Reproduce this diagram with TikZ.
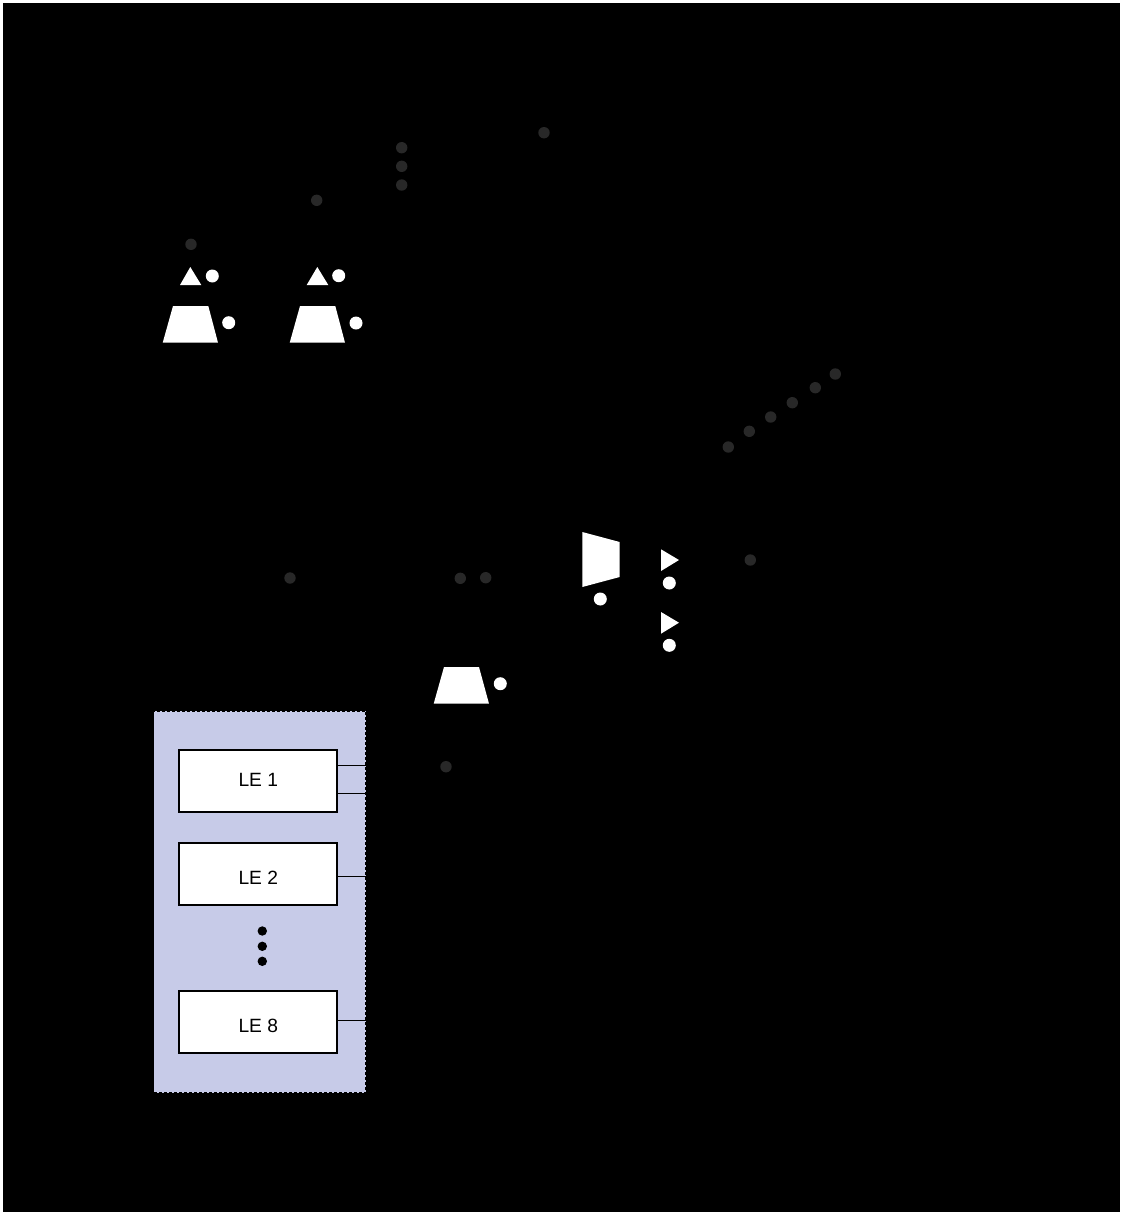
\documentclass[tikz,border=0pt]{standalone}
\usepackage{fontspec}
\setmainfont{Liberation Sans}
\definecolor{dimdot}{HTML}{282828}
\definecolor{clb}{HTML}{C7CBE8}
\tikzset{
  x=0.5pt,y=-0.5pt,
  dimdotn/.style={circle,fill=dimdot,inner sep=0pt,minimum size=5.7pt},
  whitedot/.style={circle,fill=white,inner sep=0pt,minimum size=6.5pt},
  blackdot/.style={circle,fill=black,inner sep=0pt,minimum size=4.7pt},
  solidshape/.style={fill=white},
  lebox/.style={draw=black,fill=white,line width=0.8pt,minimum width=79pt,minimum height=31pt,inner sep=0pt},
  letext/.style={font=\fontsize{9.6}{11}\selectfont,inner sep=0pt},
  clbbox/.style={draw=black,fill=clb,line width=0.6pt,dash pattern=on 1.5pt off 1pt,minimum width=106.1pt,minimum height=190.7pt,inner sep=0pt},
  wire/.style={draw=black,line width=0.75pt}
}
\begin{document}
\begin{tikzpicture}
\useasboundingbox (0,0) rectangle (1129,1212);
\fill[white] (0,0) rectangle (1129,1212);
\fill[black] (3,3) rectangle (1120,1212);
% dim dots
\foreach \n/\x/\y in {a/544/132.7,b/401.7/147.7,c/401.7/166.3,d/401.7/185,e/316.7/200.3,f/191/244.3,
  g/835.3/374,h/815.3/387.7,i/792.3/402.7,j/770.7/417,k/749.3/431.3,l/728.3/447,
  m/750.3/560,n/460.3/578.3,o/485.7/577.7,p/290/578,q/446/766.7}
  \node[dimdotn] (dim\n) at (\x,\y) {};
% white shapes
\fill[solidshape] (190.3,267) -- (180,285) -- (201.3,285) -- cycle;
\fill[solidshape] (317.3,267) -- (306.7,285) -- (328.3,285) -- cycle;
\fill[solidshape] (173,306) -- (208.3,306) -- (218,342.7) -- (162.7,342.7) -- cycle;
\fill[solidshape] (300,306) -- (335.3,306) -- (345,342.7) -- (289.7,342.7) -- cycle;
\fill[solidshape] (444,667) -- (479,667) -- (489,703.7) -- (433.7,703.7) -- cycle;
\fill[solidshape] (582.3,532) -- (619.7,542) -- (619.7,577) -- (582.3,587) -- cycle;
\fill[solidshape] (661,549.3) -- (679,560) -- (661,571) -- cycle;
\fill[solidshape] (661,612) -- (679,622.7) -- (661,633.7) -- cycle;
\foreach \n/\x/\y in {a/212.3/276,b/338.7/275.7,c/228.7/322.7,d/356/323,e/600.3/599,f/669.3/583,g/669.3/645.3,h/500.3/683.7}
  \node[whitedot] (wd\n) at (\x,\y) {};
% logic block
\node[clbbox] (clb) at (259.85,902) {};
\node[lebox] (le1) at (258,780.8) {};
\node[letext] (le1t) at (258.3,780.2) {LE 1};
\node[lebox] (le2) at (258,874.2) {};
\node[letext] (le2t) at (258.3,877.4) {LE 2};
\node[lebox] (le8) at (258,1021.7) {};
\node[letext] (le8t) at (258.3,1025.4) {LE 8};
\node[blackdot] (bd1) at (262.3,931) {};
\node[blackdot] (bd2) at (262.3,946.3) {};
\node[blackdot] (bd3) at (262.3,961.3) {};
\coordinate (o1a) at (366,765.7);
\coordinate (o1b) at (366,793.3);
\coordinate (o2) at (366,876.3);
\coordinate (o8) at (366,1020.3);
\draw[wire] (le1.east |- o1a) -- (o1a);
\draw[wire] (le1.east |- o1b) -- (o1b);
\draw[wire] (le2.east |- o2) -- (o2);
\draw[wire] (le8.east |- o8) -- (o8);
\end{tikzpicture}
\end{document}
